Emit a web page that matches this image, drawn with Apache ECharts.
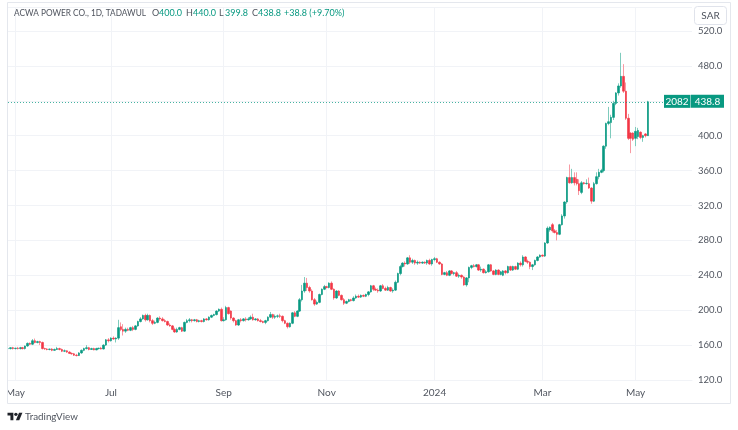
<!DOCTYPE html>
<html>
<head>
<meta charset="utf-8">
<title>ACWA POWER CO.</title>
<script src="https://cdn.jsdelivr.net/npm/echarts@6/dist/echarts.min.js"></script>
<style>
html, body { margin: 0; padding: 0; background: #fff; }
#chart { width: 738px; height: 430px; }
</style>
</head>
<body>
<div id="chart"></div>
<script>
// daily bars
var opens = [
156,156,157,156,156.5,156,157,156,159,162,
161,165,163,164,163,156,155.5,155,155.5,154,
155,156,155,153,153.5,152,150.5,150,148.5,148,
151,154,156,157,155,156,154.5,156,156.5,155.5,
160,166,165,168,167,168,181,178,176,178,
177,180,178,182,187,190,194,189,194,188,
185,186,191,190,188,187,183,182,178,175,
178,180,176,186,188,189,188,189,187,188,
187,190,189,192,194,195,199,201,188,189,
203,199,191,188,183,189,188,190,189,190,
192,189,190,188,187,186,188,192,195,192,
193,193.5,193,188,185,181,185,197,193,199,
212,222,231,226,222,212,207,209,218,224,
227,226,231,224,214,222,217,212,208,210,
212,211,214,216,215,217,216,218,221,228,
224,223,222,228,225,223,226,222,223,232,
242,250,254,253,260,255,257,254,255,254,
255,254,257,253,258,259,255,253,241,243,
240,245,242,243,239,240,238,229,237,249,
251,250,252,246,247,243,244,252,245,241,
246,241,240,245,243,250,246,250,247,254,
252,261,256,255,250,252,257,261,263,262,
277,292,298,291,289,287,298,308,324,352,
346,352,350,345,335,346,345,345,340,325,
345,353,358,360,388,414,415,421,437,449,
457,468,451,420,403,403,397,399,404,398,402,400
];
var closes = [
156,157,156,156.5,156,157,156,159,162,161,
165,163,164,163,156,155.5,155,155.5,154,155,
156,155,153,153.5,152,150.5,150,148.5,148,151,
154,156,157,155,156,154.5,156,156.5,155.5,160,
166,165,168,167,168,180,178,176,178,177,
180,178,182,187,190,194,189,194,188,185,
186,191,190,188,187,183,182,178,175,178,
180,176,186,188,189,188,189,187,188,187,
190,189,192,194,195,199,201,188,189,203,
196,191,188,183,189,188,190,189,190,192,
189,190,188,187,186,188,192,195,192,193,
193.5,193,188,185,181,185,197,193,199,212,
222,231,226,222,212,207,209,218,224,227,
226,231,224,214,222,217,212,208,210,212,
211,214,216,215,217,216,218,221,228,224,
223,222,228,225,223,226,222,223,232,242,
250,254,253,260,255,257,254,255,254,255,
254,257,253,258,259,255,253,241,243,240,
245,242,243,239,240,238,229,237,249,251,
250,252,246,247,243,244,252,245,241,246,
241,244,245,243,250,246,250,247,254,252,
261,256,255,250,252,257,261,263,262,277,
294,295,291,289,287,298,308,324,352,346,
352,346,345,337,346,345,345.5,340,325,345,
353,358,360,388,414,416,421,437,449,457,
468,451,420,397,397,396,405,406,398,400,400,438.8
];
var lows = [
155,155,155,155,155,155,155,155,158,160,
160,162,162,160,155,154.5,154,154,153,153.5,
154.5,154,152,152,151,150,149,147.5,147,147.5,
150,153,155,154,154.5,154,154,155,155,155,
159,163,164,166,163,166,176,171,174,176,
176,176,177,181,186,189,187,188,186,183,
184,185,188,187,186,182,181,177,174,174,
177,175,175,185,186,186,187,186,186,186,
186,188,188,191,193,194,198,187,187,188,
195,189,186,182,182,186,187,187,188,189,
188,188,187,186,185,184,187,191,190,190,
191,191,186,184,179,180,184,192,192,198,
210,220,222,220,211,205,206,208,217,223,
225,225,223,212,213,216,211,206,207,209,
210,210,213,214,214,215,215,216,220,222,
222,220,221,224,222,222,221,220,222,231,
240,249,250,252,253,253,252,252,253,253,
253,252,252,251,256,254,252,240,240,239,
239,241,240,238,237,236,228,227,232,247,
249,249,245,244,242,242,243,244,240,240,
240,240,239,241,242,245,245,246,246,250,
250,255,253,247,246,251,256,260,261,261,
276,290,289,288,280,286,297,305,322,345,
345,343,343,332,333,344,344,339,322,324,
344,350,357,358,385,412,397,418,435,446,
455,449,418,395,380,394,388,396,396,393,398,399.8
];
var highs = [
157,157.5,158,157,158,158,158,159.5,163,163,
167,167.5,165,165,164,157,156.5,156,156.5,156,
158,157,156,155,154,153,151.5,151,150,152,
155,157,160,158,157,157,157,157,158,161,
167,168,169,170,169,189,186,184,180,180,
181,182,183,188,192,195,196,196,195,190,
188,192,193,192,190,188,185,183,180,180,
181,181,187,190,191,190,190,190,189,189,
191,191,193,195,196,200,202,203,192,205,
204,200,192,189,190,191,191,192,192,194,
196,191,191,190,188,189,193,198,196,195,
195,196,194,189,186,186,198,199,200,214,
229,238,237,228,224,214,211,219,225,229,
228,232,233,225,223,223,218,214,211,213,
213,216,218,218,218,218,219,222,229,229,
226,225,229,230,227,228,227,225,234,243,
252,255,256,261,263,259,258,257,256,256,
256,258,259,259,261,260,256,254,244,245,
246,246,244,245,242,241,239,238,250,252,
253,253,253,250,248,246,253,253,246,247,
247,245,246,246,251,251,251,251,255,256,
263,262,258,256,253,258,262,264,264,278,
296,296,300,293,292,299,310,325,353,367,
362,358,358,350,348,347,350,352,341,347,
358,362,362,389,415,433,424,440,450,460,
495,482,461,425,404,404,410,409,405,401,403,440
];
// month ticks: bar number and label
var tickIndexes = [3, 42, 88, 130, 174, 218, 256];
var tickLabels = ['May', 'Jul', 'Sep', 'Nov', '2024', 'Mar', 'May'];
var volumeTag = '2082';
var changeText = '+38.8 (+9.70%)';

var upColor = '#089981';
var downColor = '#f23645';
var upWick = '#7fcbbd';
var downWick = '#f89aa3';
var textColor = '#50555f';
var gridColor = '#f1f3f7';
var fontName = 'Lato, sans-serif';

var myChart = echarts.init(document.getElementById('chart'), null, { renderer: 'canvas' });
chartSetting();

function chartSetting() {
	var n = opens.length;
	var last = n - 1;
	var categories = [];
	// blank room on the right of the last bar
	for (var i = 0; i < 280; i++) {
		categories.push(String(i));
	}
	var wickData = [];
	var bodyData = [];
	for (var j = 0; j < n; j++) {
		wickData.push([opens[j], closes[j], lows[j], highs[j]]);
		bodyData.push([opens[j], closes[j], Math.min(opens[j], closes[j]), Math.max(opens[j], closes[j])]);
	}

	var option = {
		animation: false,
		backgroundColor: '#fff',
		textStyle: { fontFamily: fontName },
		grid: { left: 8, right: 46, top: 7, height: 373 },
		xAxis: {
			type: 'category',
			data: categories,
			boundaryGap: false,
			axisLine: { lineStyle: { color: gridColor } },
			axisTick: { show: false },
			axisLabel: {
				color: textColor,
				fontSize: 10,
				margin: 8,
				interval: function(index) {
					return tickIndexes.indexOf(index) >= 0;
				},
				formatter: function(value, index) {
					return tickLabels[tickIndexes.indexOf(index)] || '';
				}
			},
			splitLine: {
				show: true,
				interval: function(index) {
					return tickIndexes.indexOf(index) >= 0;
				},
				lineStyle: { color: gridColor }
			}
		},
		yAxis: {
			type: 'value',
			position: 'right',
			min: 120,
			max: 547.5,
			interval: 40,
			axisLine: { show: false },
			axisTick: { show: false },
			axisLabel: {
				color: textColor,
				fontSize: 9.5,
				margin: 6,
				showMaxLabel: false,
				formatter: function(v) {
					return v % 40 === 0 ? v.toFixed(1) : '';
				}
			},
			splitLine: { show: true, lineStyle: { color: gridColor } }
		},
		series: [{
			type: 'candlestick',
			data: wickData,
			barWidth: 1,
			itemStyle: { color: upWick, color0: downWick, borderColor: upWick, borderColor0: downWick, borderWidth: 1 }
		}, {
			type: 'candlestick',
			data: bodyData,
			barWidth: 2,
			itemStyle: { color: upColor, color0: downColor, borderColor: upColor, borderColor0: downColor, borderWidth: 0.6 },
			markLine: {
				silent: true,
				symbol: 'none',
				label: { show: false },
				lineStyle: { type: [1, 2], color: upColor, width: 1, opacity: 0.75 },
				data: [{ yAxis: closes[last] }]
			}
		}]
	};
	myChart.setOption(option);

	// legend row, price tag, SAR button, frame and logo
	var tagY = myChart.convertToPixel({ yAxisIndex: 0 }, closes[last]) - 0.5;
	function legendText(x, text, color) {
		return { type: 'text', z: 61, x: x, y: 13, style: { text: text, fill: color, font: '9px ' + fontName, textVerticalAlign: 'middle' } };
	}
	var nameText = legendText(14, 'ACWA POWER CO., 1D, TADAWUL', textColor);
	nameText.scaleX = 0.92;
	myChart.setOption({
		graphic: [
			{ type: 'rect', z: 50, shape: { x: 7.5, y: 2.5, width: 723, height: 401 }, style: { fill: 'none', stroke: '#e4e7ed', lineWidth: 1 } },
			{ type: 'rect', z: 49, shape: { x: 0, y: 385, width: 7, height: 16 }, style: { fill: '#fff' } },
			nameText,
			legendText(152, 'O', textColor),
			legendText(159, opens[last].toFixed(1), upColor),
			legendText(186, 'H', textColor),
			legendText(193, highs[last].toFixed(1), upColor),
			legendText(219, 'L', textColor),
			legendText(225, lows[last].toFixed(1), upColor),
			legendText(252, 'C', textColor),
			legendText(258, closes[last].toFixed(1), upColor),
			legendText(284, changeText, upColor),
			{ type: 'rect', z: 60, shape: { x: 694.5, y: 6.5, width: 32, height: 18, r: 3 }, style: { fill: '#fff', stroke: '#e0e3eb', lineWidth: 1 } },
			{ type: 'text', z: 61, x: 710.5, y: 15.5, style: { text: 'SAR', fill: textColor, font: '10px ' + fontName, textAlign: 'center', textVerticalAlign: 'middle' } },
			{ type: 'rect', z: 60, shape: { x: 664, y: tagY - 6.5, width: 26.5, height: 13 }, style: { fill: upColor } },
			{ type: 'rect', z: 60, shape: { x: 691, y: tagY - 6.5, width: 33, height: 13 }, style: { fill: upColor } },
			{ type: 'text', z: 61, x: 677, y: tagY, style: { text: volumeTag, fill: '#fff', font: '10px ' + fontName, textAlign: 'center', textVerticalAlign: 'middle' } },
			{ type: 'text', z: 61, x: 707.5, y: tagY, style: { text: closes[last].toFixed(1), fill: '#fff', font: '10px ' + fontName, textAlign: 'center', textVerticalAlign: 'middle' } },
			// TradingView logo
			{ type: 'group', x: 7.5, y: 411, scaleX: 0.42, scaleY: 0.42, children: [
				{ type: 'polygon', z: 61, shape: { points: [[0, 4], [14, 4], [14, 22], [7, 22], [7, 11], [0, 11]] }, style: { fill: '#1f2229' } },
				{ type: 'circle', z: 61, shape: { cx: 20, cy: 8, r: 4 }, style: { fill: '#1f2229' } },
				{ type: 'polygon', z: 61, shape: { points: [[20, 22], [28, 22], [35.5, 4], [27.5, 4]] }, style: { fill: '#1f2229' } }
			] },
			{ type: 'text', z: 61, x: 25, y: 417, style: { text: 'TradingView', fill: textColor, font: '9.8px ' + fontName, textVerticalAlign: 'middle' } }
		]
	});
}
</script>
</body>
</html>
